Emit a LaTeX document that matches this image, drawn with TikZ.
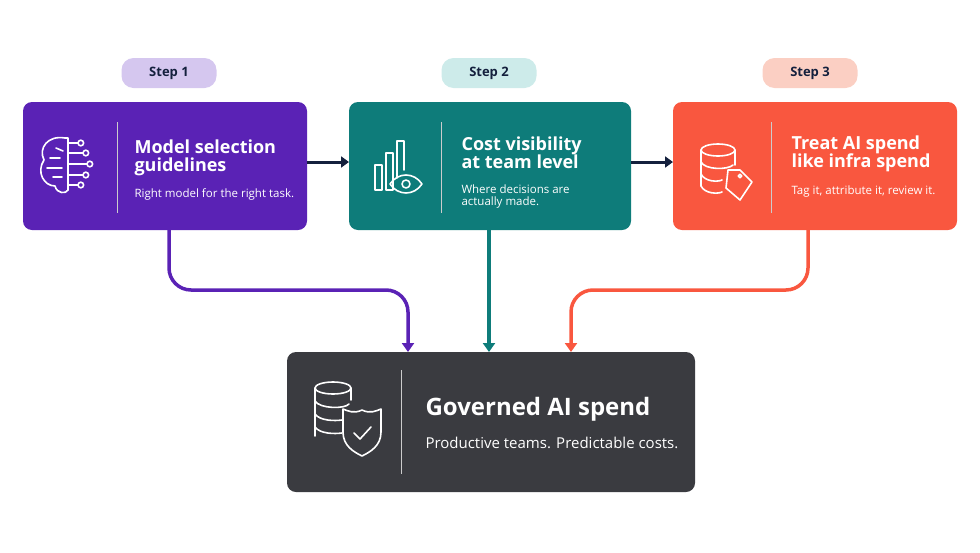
\documentclass[tikz,border=0pt]{standalone}
\usepackage{fontspec}
\setmainfont{Open Sans}
\usetikzlibrary{arrows.meta}
\definecolor{cpur}{HTML}{5A22B5}
\definecolor{cteal}{HTML}{0E7C7A}
\definecolor{cora}{HTML}{F9573F}
\definecolor{cdark}{HTML}{3A3B40}
\definecolor{cnavy}{HTML}{14203D}
\definecolor{ppur}{HTML}{D5C7EF}
\definecolor{pteal}{HTML}{CDEBEA}
\definecolor{pora}{HTML}{FBCFC3}
\begin{document}
\begin{tikzpicture}[x=1pt,y=-1pt,
 box/.style={rounded corners=9pt,inner sep=0},
 pill/.style={rounded corners=12pt,minimum width=95pt,minimum height=30pt,font=\bfseries\fontsize{13}{15}\selectfont,text=cnavy},
 ttl/.style={anchor=west,text=white,font=\bfseries\fontsize{18}{21}\selectfont,align=left},
 sub/.style={anchor=west,text=white,font=\fontsize{11.5}{15}\selectfont,align=left},
 divl/.style={white!80!black,line width=1pt},
 ic/.style={white,line width=1.6pt,line cap=round,line join=round},
 arr/.style={line width=3.5pt,-{Triangle[length=9pt,width=12pt]},rounded corners=22pt}]
\useasboundingbox (0,0) rectangle (980,552);
\fill[cpur,box] (23,102) rectangle (307,230);
\fill[cteal,box] (349,102) rectangle (631,230);
\fill[cora,box] (673,102) rectangle (957,230);
\fill[cdark,box] (287,352) rectangle (695,492);
\coordinate (b1) at (169,230); \coordinate (b2) at (489,230); \coordinate (b3) at (808,230);
\coordinate (t1) at (408,352); \coordinate (t2) at (489,352); \coordinate (t3) at (571,352);
\node[pill,fill=ppur] (p1) at (169,73) {Step 1};
\node[pill,fill=pteal] (p2) at (489,73) {Step 2};
\node[pill,fill=pora] (p3) at (810,73) {Step 3};
\coordinate (r1) at (307,162); \coordinate (l2) at (349,162);
\coordinate (r2) at (631,162); \coordinate (l3) at (673,162);
\draw[cnavy,line width=3pt,-{Triangle[length=8pt,width=11pt]}] (r1) -- (l2);
\draw[cnavy,line width=3pt,-{Triangle[length=8pt,width=11pt]}] (r2) -- (l3);
\draw[arr,cpur] (b1) |- (408,290) -- (t1);
\draw[arr,cteal] (b2) -- (t2);
\draw[arr,cora] (b3) |- (571,290) -- (t3);
\draw[divl] (117,122) -- (117,213);
\draw[divl] (441,122) -- (441,213);
\draw[divl] (771,122) -- (771,213);
\draw[divl] (401,370) -- (401,474);
\node[ttl] (h1) at (131,158) {Model selection\\[-3pt]guidelines};
\node[sub] (s1) at (131,194) {Right model for the right task.};
\node[ttl] (h2) at (458,153) {Cost visibility\\[-3pt]at team level};
\node[sub] (s2) at (458,197) {Where decisions are\\[-3pt]actually made.};
\node[ttl] (h3) at (788,154) {Treat AI spend\\[-3pt]like infra spend};
\node[sub] (s3) at (788,192) {Tag it, attribute it, review it.};
\node[ttl,font=\bfseries\fontsize{24}{28}\selectfont] (h4) at (422,409) {Governed AI spend};
\node[sub,font=\fontsize{15}{18}\selectfont] (s4) at (422,443) {Productive teams. Predictable costs.};
% brain icon
\draw[ic] (65,138) .. controls (48,135) and (38,148) .. (44,160) .. controls (36,172) and (44,186) .. (55,186) .. controls (57,194) and (66,194) .. (68,190);
\draw[ic] (65,138) -- (68,138) -- (68,190);
\draw[ic] (50,158) -- (60,158) (47,168) -- (62,168) (53,177) -- (62,177) (56,148) -- (63,151);
\foreach \y/\d in {143/10,153/15,164/19,175/15,185/10}{\draw[ic] (68,\y) -- ++(\d,0); \draw[ic] (68+\d+2.8,\y) circle (2.8);}
% chart+eye icon
\draw[ic] (375,190) rectangle (382,165);
\draw[ic] (386,190) rectangle (393,153);
\draw[ic] (397,178) -- (397,141) -- (404,141) -- (404,170);
\draw[ic] (390,184) .. controls (398,172) and (414,172) .. (422,184) .. controls (414,196) and (398,196) .. (390,184) -- cycle;
\draw[ic] (406,184) circle (4);
% database tag icon
\draw[ic] (718,150) ellipse (17 and 6);
\draw[ic] (701,150) -- (701,186) (735,150) -- (735,165);
\draw[ic] (701,162) .. controls (705,170) and (728,170) .. (733,165);
\draw[ic] (701,174) .. controls (705,182) and (718,182) .. (722,180);
\draw[ic] (701,186) .. controls (705,194) and (718,194) .. (722,192);
\draw[ic] (728,170) -- (740,170) -- (752,182) -- (740,200) -- (726,188) -- cycle;
\draw[ic] (740,176) circle (1.8);
% database shield icon
\draw[ic] (333,388) ellipse (18 and 6);
\draw[ic] (315,388) -- (315,436) (351,388) -- (351,400);
\draw[ic] (315,401) .. controls (320,409) and (345,409) .. (349,404);
\draw[ic] (315,414) .. controls (320,421) and (335,421) .. (342,420);
\draw[ic] (315,427) .. controls (320,434) and (335,434) .. (342,433);
\draw[ic] (362,410) .. controls (370,414) and (376,411) .. (381,409) -- (381,432) .. controls (381,446) and (370,452) .. (362,456) .. controls (354,452) and (343,446) .. (343,432) -- (343,409) .. controls (348,411) and (354,414) .. (362,410) -- cycle;
\draw[ic] (354,433) -- (360,439) -- (371,427);
\end{tikzpicture}
\end{document}
